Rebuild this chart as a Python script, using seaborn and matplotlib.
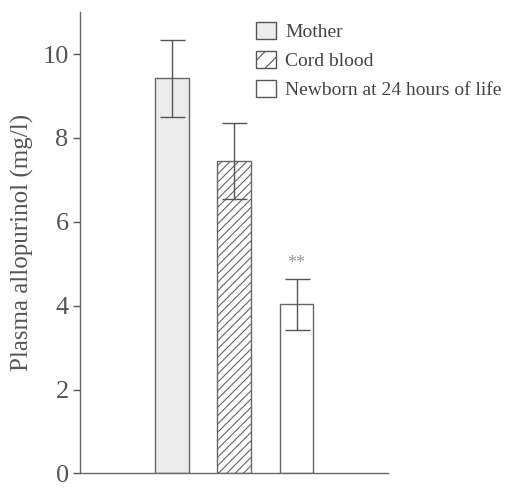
import matplotlib
matplotlib.use("Agg")
import matplotlib.pyplot as plt
from matplotlib.patches import Patch
import seaborn as sns
import pandas as pd

sns.set_style("white")
plt.rcParams["font.family"] = ["Liberation Serif", "DejaVu Serif"]
plt.rcParams["hatch.color"] = "#555555"
plt.rcParams["hatch.linewidth"] = 0.8

# Values
groups = ["Mother", "Cord blood", "Newborn at 24 hours of life"]
means = [9.42, 7.45, 4.03]
errors = [0.92, 0.9, 0.6]
fills = ["#ececec", "white", "white"]
hatches = ["", "////", ""]

df = pd.DataFrame({"group": groups, "value": means})

fig = plt.figure(figsize=(5.05, 4.88), dpi=100)
ax = fig.add_axes([0.158, 0.03, 0.61, 0.945])

sns.barplot(data=df, x="group", y="value", hue="group", palette=fills,
            width=0.54, edgecolor="#666666", linewidth=1.0, legend=False, ax=ax)
for bar, h in zip(ax.patches, hatches):
    bar.set_hatch(h)

ax.errorbar(range(len(groups)), means, yerr=errors, fmt="none",
            ecolor="#555555", elinewidth=1.0, capsize=9, capthick=1.0)
ax.text(2, 5.0, "**", ha="center", va="center", fontsize=13, color="#999999")

ax.set_xlim(-1.47, 3.46)
ax.set_ylim(0, 11)
ax.set_yticks([0, 2, 4, 6, 8, 10])
ax.set_xticks([])
ax.set_xlabel("")
ax.set_ylabel("Plasma allopurinol (mg/l)", fontsize=18, color="#555555", labelpad=6)
ax.tick_params(axis="y", direction="out", length=5, width=1, color="#555555",
               labelsize=19, labelcolor="#555555", left=True, pad=3)
sns.despine(ax=ax)
for s in ["left", "bottom"]:
    ax.spines[s].set_color("#666666")
    ax.spines[s].set_linewidth(1.0)

handles = [Patch(facecolor=f, edgecolor="#555555", hatch=h, linewidth=1.0)
           for f, h in zip(fills, ["", "//", ""])]
ax.legend(handles, groups, loc="upper left", bbox_to_anchor=(0.535, 1.005),
          frameon=False, fontsize=14, labelcolor="#444444",
          handlelength=1.0, handleheight=1.0, handletextpad=0.5,
          labelspacing=0.5, borderaxespad=0.2)

fig.savefig("out.png", dpi=100)
